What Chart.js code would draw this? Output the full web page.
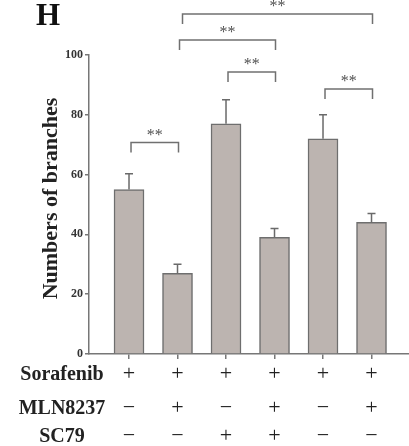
<!DOCTYPE html>
<html>
<head>
<meta charset="utf-8">
<script src="https://cdn.jsdelivr.net/npm/chart.js@4"></script>
<style>
  html, body { margin: 0; padding: 0; background: #fff; }
  #wrap { width: 409px; height: 446px; }
</style>
</head>
<body>
<div id="wrap"><canvas id="chart" width="409" height="446"></canvas></div>
<script>
// values
const groups = ['G1', 'G2', 'G3', 'G4', 'G5', 'G6'];
const branchMeans = [55, 27, 77, 39, 72, 44];
const branchErrors = [5.3, 3, 8, 3, 8, 3];

// treatment table under the axis
const rowLabels = ['Sorafenib', 'MLN8237', 'SC79'];
const sorafenib = ['+', '+', '+', '+', '+', '+'];
const mln8237 = ['\u2212', '+', '\u2212', '+', '\u2212', '+'];
const sc79 = ['\u2212', '\u2212', '+', '+', '\u2212', '\u2212'];

// significance brackets: bar index pairs and bracket height (axis units)
const bracketFrom = [0, 2, 1, 1, 4];
const bracketTo = [1, 3, 3, 5, 5];
const bracketHeight = [70.7, 94.3, 105, 113.7, 88.6];
const bracketText = ['**', '**', '**', '**', '**'];

const axisColor = '#777';
const serif = '"Liberation Serif", "Times New Roman", serif';

const extras = {
    id: 'extras',
    afterDatasetsDraw(chart) {
        const ctx = chart.ctx;
        const xs = chart.scales.x;
        const ys = chart.scales.y;
        ctx.save();

        // error bars
        ctx.strokeStyle = '#6a6a6a';
        ctx.lineWidth = 1.5;
        branchMeans.forEach((m, i) => {
            const px = xs.getPixelForValue(i);
            const top = ys.getPixelForValue(m + branchErrors[i]);
            ctx.beginPath();
            ctx.moveTo(px, ys.getPixelForValue(m));
            ctx.lineTo(px, top);
            ctx.moveTo(px - 4, top);
            ctx.lineTo(px + 4, top);
            ctx.stroke();
        });

        // brackets and stars
        ctx.strokeStyle = '#707070';
        ctx.lineWidth = 1.5;
        ctx.fillStyle = '#505050';
        ctx.font = '16px ' + serif;
        ctx.textAlign = 'center';
        ctx.textBaseline = 'alphabetic';
        bracketFrom.forEach((f, i) => {
            const x1 = xs.getPixelForValue(f) + (i === 3 ? 5 : 2);
            const x2 = xs.getPixelForValue(bracketTo[i]) + 1;
            const y = ys.getPixelForValue(bracketHeight[i]);
            ctx.beginPath();
            ctx.moveTo(x1, y + 10);
            ctx.lineTo(x1, y);
            ctx.lineTo(x2, y);
            ctx.lineTo(x2, y + 10);
            ctx.stroke();
            ctx.fillText(bracketText[i], (x1 + x2) / 2, y - 3);
        });
        ctx.restore();
    },
    afterDraw(chart) {
        const ctx = chart.ctx;
        const xs = chart.scales.x;
        const ys = chart.scales.y;
        ctx.save();

        // panel letter
        ctx.fillStyle = '#111';
        ctx.font = 'bold 31px ' + serif;
        ctx.textAlign = 'left';
        ctx.textBaseline = 'alphabetic';
        ctx.fillText('H', 36, 25);

        // y axis title
        ctx.save();
        ctx.translate(57, (ys.top + ys.bottom) / 2 - 6);
        ctx.rotate(-Math.PI / 2);
        ctx.font = 'bold 22px ' + serif;
        ctx.textAlign = 'center';
        ctx.fillStyle = '#222';
        ctx.fillText('Numbers of branches', 0, 0);
        ctx.restore();

        // treatment table
        const rows = [sorafenib, mln8237, sc79];
        const rowY = [380, 414, 442];
        ctx.fillStyle = '#222';
        ctx.textAlign = 'center';
        rows.forEach((row, r) => {
            ctx.font = 'bold 20px ' + serif;
            ctx.fillText(rowLabels[r], 62, rowY[r]);
            ctx.font = '22px ' + serif;
            row.forEach((s, i) => {
                ctx.fillText(s, xs.getPixelForValue(i), rowY[r]);
            });
        });
        ctx.restore();
    }
};

new Chart(document.getElementById('chart'), {
    type: 'bar',
    data: {
        datasets: [{
            label: 'Numbers of branches',
            data: branchMeans.map((v, i) => ({ x: i, y: v })),
            backgroundColor: '#bcb4b0',
            borderColor: '#6e6e6e',
            borderWidth: 1.5,
            barThickness: 30
        }]
    },
    options: {
        responsive: false,
        animation: false,
        layout: { padding: { top: 55, bottom: 87, left: 0, right: 0 } },
        plugins: { legend: { display: false }, tooltip: { enabled: false } },
        scales: {
            x: {
                type: 'linear',
                offset: false,
                min: -0.825,
                max: 5.773,
                afterBuildTicks: s => { s.ticks = groups.map((g, i) => ({ value: i })); },
                ticks: { display: false },
                grid: { offset: false, drawOnChartArea: false, drawTicks: true, tickLength: 5, color: axisColor, lineWidth: 1.5 },
                border: { color: axisColor, width: 1.5 }
            },
            y: {
                min: 0,
                max: 100,
                afterFit: s => { s.width = 89; },
                ticks: {
                    stepSize: 20,
                    padding: 2,
                    color: '#333',
                    font: { family: serif, size: 12, weight: 'bold' }
                },
                grid: { drawOnChartArea: false, drawTicks: true, tickLength: 4, color: axisColor, lineWidth: 1.5 },
                border: { color: axisColor, width: 1.5 }
            }
        }
    },
    plugins: [extras]
});
</script>
</body>
</html>
